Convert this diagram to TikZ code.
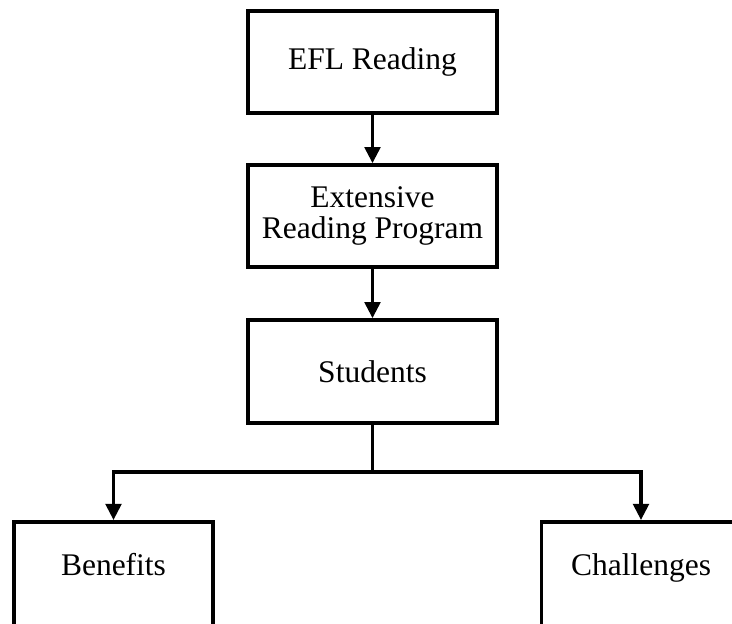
\documentclass[tikz,border=0pt]{standalone}
\usepackage{fontspec}
\setmainfont{Liberation Serif}
\usetikzlibrary{arrows.meta}
\begin{document}
\begin{tikzpicture}[x=1pt,y=1pt,
  box/.style={draw=black, line width=3.6pt, fill=white, minimum width=249pt, inner sep=0pt, align=center,
    font=\fontsize{31.5}{31}\selectfont},
  lowbox/.style={box, minimum width=199pt, anchor=north, text height=54pt, text depth=70pt},
  conn/.style={line width=3.4pt, draw=black},
  arr/.style={conn, -{Triangle[width=15.5pt,length=16pt]}}]
\useasboundingbox (0,0) rectangle (732,624);
\clip (0,0) rectangle (732,624);
\node[box, minimum height=102pt] (efl) at (372.5,562) {EFL Reading};
\node[box, minimum height=102pt] (erp) at (372.5,408) {Extensive\\Reading Program};
\node[box, minimum height=103pt] (stu) at (372.5,252.5) {Students};
\node[lowbox] (ben) at (113.5,104) {Benefits};
\node[lowbox] (cha) at (641,104) {Challenges};
\coordinate (j) at (372.5,152);
\draw[arr] (efl.south) -- (erp.north);
\draw[arr] (erp.south) -- (stu.north);
\draw[conn] (stu.south) -- (j);
\draw[arr] (j) -| (ben.north);
\draw[arr] (j) -| (cha.north);
\end{tikzpicture}
\end{document}
